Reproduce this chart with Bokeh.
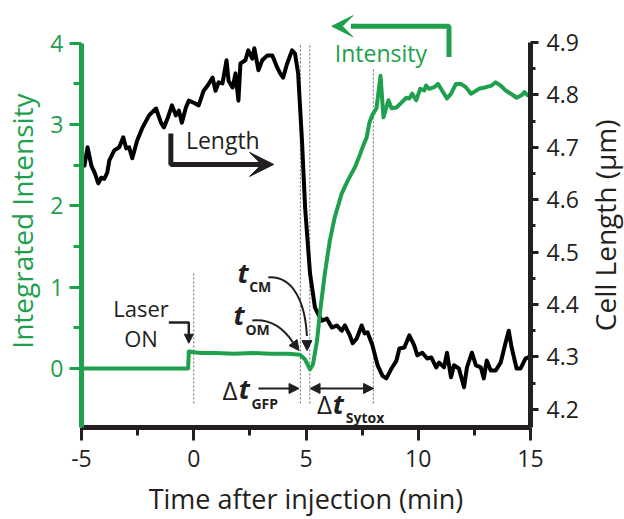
import math
from bokeh.plotting import figure
from bokeh.layouts import row
from bokeh.models import Range1d, LinearAxis, FixedTicker, Label, Arrow, NormalHead, VeeHead
from bokeh.core.properties import value
from bokeh.embed import file_html
from bokeh.resources import INLINE

GREEN = "#1ea04c"
INK = "#231f20"
FONT = "Open Sans"

# ---------------- data ----------------
time_len = [-5.0, -4.87, -4.73, -4.56, -4.42, -4.25, -4.12, -3.98, -3.85, -3.76, -3.54, -3.32,
            -3.14, -3.01, -2.88, -2.74, -2.52, -2.30, -1.99, -1.68, -1.46, -1.33, -1.15, -0.97,
            -0.80, -0.66, -0.53, -0.35, -0.22, 0.00, 0.22, 0.44, 0.62, 0.84, 0.97, 1.11, 1.28,
            1.46, 1.55, 1.73, 1.86, 1.99, 2.08, 2.30, 2.43, 2.61, 2.70, 2.88, 3.05, 3.27, 3.50,
            3.72, 3.85, 3.98, 4.16, 4.38, 4.51, 4.65, 4.82, 4.96, 5.18, 5.40, 5.53, 5.71, 5.93,
            6.15, 6.37, 6.59, 6.73, 6.95, 7.08, 7.26, 7.48, 7.61, 7.74, 7.96, 8.19, 8.41, 8.58,
            8.81, 9.03, 9.16, 9.38, 9.60, 9.82, 9.96, 10.18, 10.40, 10.58, 10.80, 10.93, 11.15,
            11.28, 11.46, 11.59, 11.81, 12.04, 12.17, 12.39, 12.57, 12.79, 12.92, 13.05, 13.23,
            13.45, 13.67, 13.89, 14.03, 14.16, 14.38, 14.56, 14.78, 14.91, 15.0]
cell_length = [4.670, 4.665, 4.700, 4.665, 4.652, 4.631, 4.642, 4.640, 4.652, 4.675, 4.694, 4.700,
               4.719, 4.698, 4.700, 4.679, 4.713, 4.736, 4.761, 4.774, 4.747, 4.738, 4.757, 4.780,
               4.761, 4.770, 4.747, 4.776, 4.789, 4.785, 4.780, 4.808, 4.818, 4.833, 4.808, 4.824,
               4.822, 4.866, 4.827, 4.814, 4.841, 4.789, 4.860, 4.866, 4.885, 4.869, 4.889, 4.847,
               4.866, 4.875, 4.875, 4.852, 4.841, 4.833, 4.860, 4.885, 4.879, 4.841, 4.713, 4.585,
               4.459, 4.394, 4.383, 4.369, 4.373, 4.356, 4.360, 4.350, 4.360, 4.341, 4.326, 4.335,
               4.360, 4.345, 4.347, 4.322, 4.284, 4.264, 4.259, 4.278, 4.293, 4.316, 4.318, 4.341,
               4.322, 4.303, 4.308, 4.297, 4.299, 4.280, 4.289, 4.280, 4.308, 4.261, 4.284, 4.278,
               4.242, 4.280, 4.308, 4.284, 4.280, 4.259, 4.293, 4.274, 4.274, 4.289, 4.327, 4.350,
               4.318, 4.278, 4.278, 4.297, 4.299, 4.302]

time_int = [-5.0, -0.25, -0.22, 0.3, 1.0, 1.8, 2.6, 3.4, 4.2, 4.73, 4.96, 5.18, 5.31, 5.49, 5.62,
            5.84, 6.06, 6.28, 6.59, 6.86, 7.17, 7.39, 7.52, 7.70, 7.83, 7.96, 8.14, 8.32, 8.45,
            8.58, 8.67, 8.81, 9.03, 9.25, 9.47, 9.60, 9.73, 9.91, 10.09, 10.27, 10.35, 10.49,
            10.71, 10.88, 11.06, 11.28, 11.46, 11.68, 11.90, 12.12, 12.35, 12.48, 12.70, 13.01,
            13.27, 13.45, 13.67, 13.89, 14.12, 14.38, 14.60, 14.73, 14.87, 15.0]
intensity = [0.0, 0.0, 0.21, 0.19, 0.19, 0.18, 0.19, 0.18, 0.18, 0.17, 0.11, -0.01, 0.05, 0.34,
             0.68, 1.17, 1.57, 1.86, 2.15, 2.31, 2.47, 2.62, 2.72, 2.84, 3.03, 3.12, 3.20, 3.60,
             3.09, 3.21, 3.30, 3.20, 3.21, 3.27, 3.33, 3.32, 3.38, 3.30, 3.44, 3.42, 3.48, 3.44,
             3.46, 3.50, 3.42, 3.32, 3.38, 3.50, 3.50, 3.46, 3.38, 3.40, 3.44, 3.46, 3.48, 3.52,
             3.48, 3.42, 3.38, 3.33, 3.36, 3.40, 3.36, 3.38]

x_ticks = [-5, 0, 5, 10, 15]
x_minor = [-2.5, 2.5, 7.5, 12.5]
int_ticks = [0, 1, 2, 3, 4]
int_minor = [0.5, 1.5, 2.5, 3.5]
len_ticks = [4.2, 4.3, 4.4, 4.5, 4.6, 4.7, 4.8, 4.9]
len_minor = [4.25, 4.35, 4.45, 4.55, 4.65, 4.75, 4.85]

x_title = "Time after injection (min)"
left_title = "Integrated Intensity"
right_title = "Cell Length (μm)"

# event markers (min): laser on, t_OM, t_CM, end of Sytox interval
event_t = [0.0, 4.75, 5.17, 8.0]
event_top = [1.17, 4.0, 4.0, 3.68]
event_bottom = [-0.43, -0.43, -0.43, -0.43]

# ---------------- main figure ----------------
p = figure(width=581, height=519, output_backend="svg", toolbar_location=None,
           x_range=Range1d(-5, 15), y_range=Range1d(-0.726, 4.354),
           min_border_left=80, min_border_right=49, min_border_top=14, min_border_bottom=92)
p.extra_y_ranges = {"len": Range1d(4.1653, 4.9534)}
p.outline_line_color = None
p.xgrid.visible = False
p.ygrid.visible = False
p.background_fill_color = "white"
p.border_fill_color = "white"


def style_axis(ax, color, tick_out, minor_out, standoff):
    ax.axis_line_width = 5
    ax.axis_line_color = color
    ax.major_tick_line_width = 3
    ax.major_tick_line_color = color
    ax.minor_tick_line_width = 3
    ax.minor_tick_line_color = color
    ax.major_tick_in = 0
    ax.major_tick_out = tick_out
    ax.minor_tick_in = 0
    ax.minor_tick_out = minor_out
    ax.major_label_text_font = FONT
    ax.major_label_text_font_size = "23px"
    ax.major_label_text_color = color
    ax.major_label_standoff = standoff


def style_title(ax, title, size, color, standoff):
    ax.axis_label = title
    ax.axis_label_text_font = FONT
    ax.axis_label_text_font_size = size
    ax.axis_label_text_font_style = "normal"
    ax.axis_label_text_color = color
    ax.axis_label_standoff = standoff


xa = p.xaxis[0]
xa.ticker = FixedTicker(ticks=x_ticks, minor_ticks=x_minor)
xa.major_label_overrides = {-5: "-5"}
style_axis(xa, INK, 13, 8, 9)
style_title(xa, x_title, "27px", INK, 10)

ya = p.yaxis[0]
ya.ticker = FixedTicker(ticks=int_ticks, minor_ticks=int_minor)
ya.bounds = (-0.726, 4.0)
style_axis(ya, GREEN, 12, 8, 6)
style_title(ya, left_title, "28px", GREEN, 6)

ra = LinearAxis(y_range_name="len", ticker=FixedTicker(ticks=len_ticks, minor_ticks=len_minor),
                bounds=(4.1653, 4.9))
style_axis(ra, INK, 8, 5, 8)
p.add_layout(ra, "right")

# dotted event lines
p.segment(x0=event_t, y0=event_bottom, x1=event_t, y1=event_top,
          line_color="#666666", line_width=1, line_dash="2 2")

# data
p.line(time_len, cell_length, y_range_name="len", line_color="black", line_width=4,
       line_join="round")
p.line(time_int, intensity, line_color=GREEN, line_width=4, line_join="round")

# ---------------- annotations ----------------
def txt(x, y, s, size, color=INK, style="normal", align="left"):
    p.add_layout(Label(x=x, y=y, text=s, text_font=FONT, text_font_size=size,
                       text_color=color, text_font_style=style, text_align=align,
                       text_baseline="alphabetic"))

# Intensity key arrow (green)
p.line([11.37, 11.37, 7.0], [3.83, 4.21, 4.21], line_color=GREEN, line_width=5)
p.add_layout(Arrow(end=VeeHead(size=21, fill_color=GREEN, line_color=GREEN, line_width=1),
                   x_start=6.6, y_start=4.21, x_end=6.15, y_end=4.21, line_alpha=0))
txt(6.28, 3.88, "Intensity", "23px", GREEN)

# Length key arrow (black)
p.line([-1.02, -1.02, 3.0], [2.89, 2.51, 2.51], line_color=INK, line_width=5)
p.add_layout(Arrow(end=VeeHead(size=24, fill_color=INK, line_color=INK, line_width=1),
                   x_start=3.1, y_start=2.51, x_end=3.56, y_end=2.51, line_alpha=0))
txt(-0.35, 2.81, "Length", "23px")

# Laser ON
txt(-2.35, 0.75, "Laser", "22px", align="center")
txt(-2.35, 0.37, "ON", "22px", align="center")
p.line([-1.11, -0.22, -0.22], [0.566, 0.566, 0.40], line_color=INK, line_width=2.5)
p.add_layout(Arrow(end=NormalHead(size=9, fill_color=INK, line_color=INK, line_width=1),
                   x_start=-0.22, y_start=0.42, x_end=-0.22, y_end=0.31, line_alpha=0))

# t_CM
txt(1.95, 1.18, "t", "27px", style="bold italic")
txt(2.47, 1.01, "CM", "14px", style="bold")
p.bezier(x0=[3.32], y0=[1.12], x1=[5.04], y1=[0.40], cx0=[4.38], cy0=[1.14],
         cx1=[4.96], cy1=[0.84], line_color=INK, line_width=2)
p.add_layout(Arrow(end=NormalHead(size=10, fill_color=INK, line_color=INK, line_width=1),
                   x_start=5.04, y_start=0.42, x_end=5.05, y_end=0.22, line_alpha=0))

# t_OM
txt(1.77, 0.67, "t", "27px", style="bold italic")
txt(2.30, 0.48, "OM", "14px", style="bold")
p.bezier(x0=[2.61], y0=[0.59], x1=[4.42], y1=[0.32], cx0=[3.50], cy0=[0.615],
         cx1=[4.07], cy1=[0.467], line_color=INK, line_width=2)
p.add_layout(Arrow(end=NormalHead(size=10, fill_color=INK, line_color=INK, line_width=1),
                   x_start=4.42, y_start=0.32, x_end=4.69, y_end=0.22, line_alpha=0))

# Delta t GFP
txt(1.28, -0.26, "Δ", "26px")
txt(2.00, -0.25, "t", "27px", style="bold italic")
txt(2.57, -0.43, "GFP", "14px", style="bold")
p.add_layout(Arrow(end=NormalHead(size=10, fill_color=INK, line_color=INK, line_width=1),
                   x_start=2.88, y_start=-0.246, x_end=4.69, y_end=-0.246,
                   line_color=INK, line_width=2))

# Delta t Sytox
txt(5.49, -0.44, "Δ", "26px")
txt(6.19, -0.43, "t", "27px", style="bold italic")
txt(6.77, -0.60, "Sytox", "14px", style="bold")
p.add_layout(Arrow(start=NormalHead(size=10, fill_color=INK, line_color=INK, line_width=1),
                   end=NormalHead(size=10, fill_color=INK, line_color=INK, line_width=1),
                   x_start=5.18, y_start=-0.246, x_end=8.01, y_end=-0.246,
                   line_color=INK, line_width=2))

# ---------------- right title strip (reads bottom-to-top) ----------------
p2 = figure(width=43, height=519, output_backend="svg", toolbar_location=None,
            x_range=Range1d(0, 43), y_range=Range1d(0, 519),
            x_axis_location=None, y_axis_location=None,
            min_border_left=0, min_border_right=0, min_border_top=0, min_border_bottom=0)
p2.outline_line_color = None
p2.xgrid.visible = False
p2.ygrid.visible = False
p2.text(x=[23], y=[254], text=[right_title], angle=math.pi / 2,
        text_font=value(FONT), text_font_size="28px", text_color=INK,
        text_align="center", text_baseline="middle")

layout = row(p, p2, spacing=0)
open("out.html", "w").write(file_html(layout, INLINE))
